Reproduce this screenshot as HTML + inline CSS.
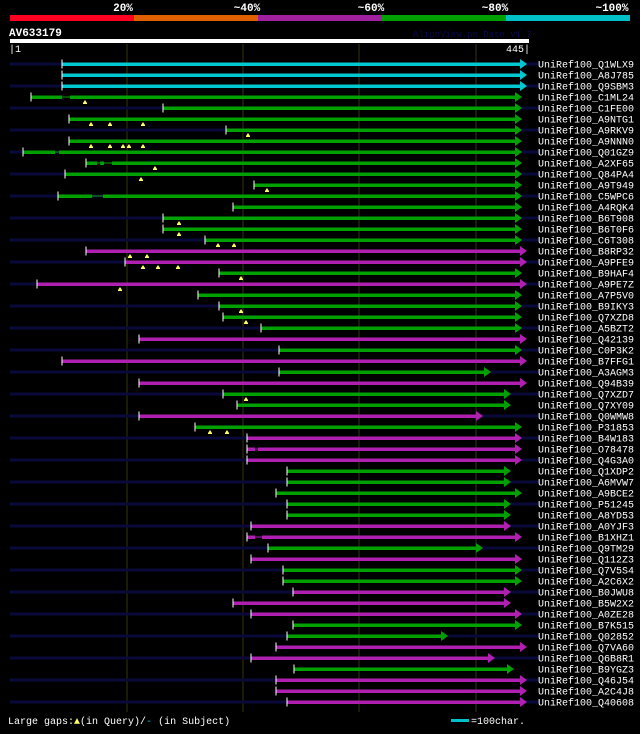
<!DOCTYPE html>
<html><head><meta charset="utf-8">
<style>
html,body{margin:0;padding:0;background:#000;}
body{width:640px;height:729px;overflow:hidden;font-family:"Liberation Mono","DejaVu Sans Mono",monospace;}
svg text{font-family:"Liberation Mono","DejaVu Sans Mono",monospace;}
</style></head>
<body>
<svg id="chart" width="640" height="729" xmlns="http://www.w3.org/2000/svg">
<g>
<text x="123" y="11" fill="#fff" font-size="11" font-weight="bold" text-anchor="middle">20%</text>
<text x="247" y="11" fill="#fff" font-size="11" font-weight="bold" text-anchor="middle">~40%</text>
<text x="371" y="11" fill="#fff" font-size="11" font-weight="bold" text-anchor="middle">~60%</text>
<text x="495" y="11" fill="#fff" font-size="11" font-weight="bold" text-anchor="middle">~80%</text>
<text x="612" y="11" fill="#fff" font-size="11" font-weight="bold" text-anchor="middle">~100%</text>
<rect x="10" y="15" width="124" height="6" fill="#ff0022"/>
<rect x="134" y="15" width="124" height="6" fill="#e06000"/>
<rect x="258" y="15" width="124" height="6" fill="#a020a0"/>
<rect x="382" y="15" width="124" height="6" fill="#00a000"/>
<rect x="506" y="15" width="124" height="6" fill="#00c0c8"/>
<text x="9" y="36" fill="#fff" font-size="11" font-weight="bold">AV633179</text>
<text x="413" y="37" fill="#0a0a50" font-size="9">AlignView.pm Date v1.7</text>
<rect x="10" y="39" width="519" height="4" fill="#fff"/>
<text x="9" y="52" fill="#fff" font-size="10">|1</text>
<text x="530" y="52" fill="#fff" font-size="10" text-anchor="end">445|</text>
</g>
<g id="grid"></g>
<g id="rows"></g>
<g>
<text x="8" y="724" fill="#fff" font-size="10">Large gaps:<tspan fill="#ffff66">▲</tspan>(in Query)/<tspan fill="#00c0c8">-</tspan> (in Subject)</text>
<rect x="451" y="719" width="18" height="3" fill="#00c0c8"/>
<text x="471" y="724" fill="#fff" font-size="10">=100char.</text>
</g>
</svg>
<script>
const names=["Q1WLX9","A8J785","Q9SBM3","C1ML24","C1FE00","A9NTG1","A9RKV9","A9NNN0","Q01GZ9","A2XF65","Q84PA4","A9T949","C5WPC6","A4RQK4","B6T908","B6T0F6","C6T308","B8RP32","A9PFE9","B9HAF4","A9PE7Z","A7P5V0","B9IKY3","Q7XZD8","A5BZT2","Q42139","C0P3K2","B7FFG1","A3AGM3","Q94B39","Q7XZD7","Q7XY09","Q0WMW8","P31853","B4W183","O78478","Q4G3A0","Q1XDP2","A6MVW7","A9BCE2","P51245","A8YD53","A0YJF3","B1XHZ1","Q9TM29","Q112Z3","Q7V5S4","A2C6X2","B0JWU8","B5W2X2","A0ZE28","B7K515","Q02852","Q7VA60","Q6B8R1","B9YGZ3","Q46J54","A2C4J8","Q40608"];
const starts=[62,62,62,31,163,69,226,69,23,86,65,254,58,233,163,163,205,86,125,219,37,198,219,223,261,139,279,62,279,139,223,237,139,195,247,247,247,287,287,276,287,287,251,247,268,251,283,283,293,233,251,293,287,276,251,294,276,276,287];
const ends=[527,527,527,522,522,522,522,522,522,522,522,522,522,522,522,522,522,527,527,522,527,522,522,522,522,527,522,527,491,527,511,511,483,522,522,522,522,511,511,522,511,511,511,522,483,522,522,522,511,511,522,522,448,527,495,514,527,527,527];
const colors=["c","c","c","g","g","g","g","g","g","g","g","g","g","g","g","g","g","m","m","g","m","g","g","g","g","m","g","m","g","m","g","g","m","g","m","m","m","g","g","g","g","g","m","m","g","m","g","g","m","m","m","g","g","m","m","g","m","m","m"];
const gapTicks={3:[85],5:[91,110,143],6:[248],7:[91,110,123,129,143],9:[155],10:[141],11:[267],14:[179],15:[179],16:[218,234],17:[130,147],18:[143,158,178],19:[241],20:[120],22:[241],23:[246],30:[246],33:[210,227]};
const subjGaps={3:[[62,70]],8:[[55,59]],9:[[97,100],[104,112]],12:[[92,103]],35:[[255,258]],43:[[255,262]]};
const gridX=[127,243,359,476];
const pal={c:"#00c8d0",g:"#00a000",m:"#b020b0"};
const NS="http://www.w3.org/2000/svg";
function rowY(i){return 64+i*11;}
function mk(tag,attrs,parent){const e=document.createElementNS(NS,tag);for(const k in attrs)e.setAttribute(k,attrs[k]);parent.appendChild(e);return e;}
const grid=document.getElementById('grid');
gridX.forEach(x=>{const l=mk('line',{x1:x,x2:x,y1:44,y2:712,stroke:'#33330a','stroke-width':1},grid);

});
const rows=document.getElementById('rows');
names.forEach((n,i)=>{
 const y=rowY(i);
 const g=mk('g',{},rows);
 
 
 if(i%2===0){const bg=mk('rect',{x:10,y:y-1.5,width:530,height:3,fill:'#0a0a3a'},g);
  
  }
 const col=pal[colors[i]];
 const s=starts[i],e=ends[i]-7;
 const gaps=subjGaps[i]||[];
 let cur=s;const segs=[];
 gaps.forEach(([a,b])=>{segs.push([cur,a]);cur=b;});
 segs.push([cur,e]);
 segs.forEach(([a,b])=>{const r=mk('rect',{x:a,y:y-1.5,width:Math.max(0,b-a),height:3.5,fill:col},g);
  
  });
 gaps.forEach(([a,b])=>{const r=mk('rect',{x:a,y:y-0.5,width:b-a,height:1,fill:col},g);
  
  });
 const ar=mk('polygon',{points:`${e},${y-5} ${e+7},${y} ${e},${y+5}`,fill:col},g);
 
 
 const t=mk('rect',{x:s-0.5,y:y-4.5,width:1,height:9,fill:'#fff'},g);
 
 
 (gapTicks[i]||[]).forEach(x=>{const q=mk('polygon',{points:`${x-2},${y+6} ${x},${y+3} ${x+2},${y+6} ${x+2},${y+7} ${x-2},${y+7}`,fill:'#ffff66'},g);
  
  });
 const lab=mk('text',{x:538,y:y+3.5,fill:'#fff','font-size':10},g);
 lab.textContent='UniRef100_'+n;
 
 
});
</script>
</body></html>
